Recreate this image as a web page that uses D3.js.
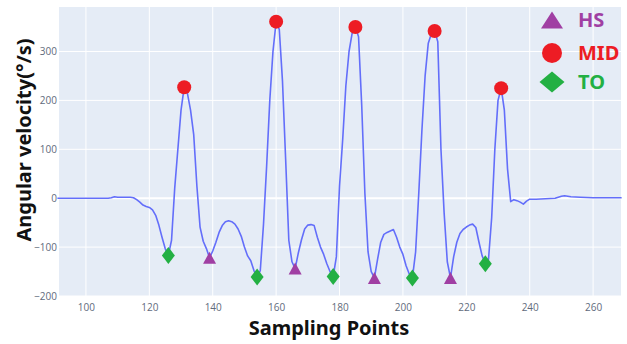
<!DOCTYPE html>
<html>
<head>
<meta charset="utf-8">
<script src="https://cdn.jsdelivr.net/npm/d3@7"></script>
<style>
  body { margin: 0; background: #fff; }
  svg { display: block; }
</style>
</head>
<body>
<svg id="chart" width="627" height="344"></svg>
<script>
// sampled angular velocity, [sample index, deg/s]
const signal = [
  [91, 0], [95, 0], [100, 0], [105, 0], [107, 0], [108, 1], [109, 3], [110, 2],
  [111, 2], [112, 2], [113, 2], [114, 2], [115, 1], [116, -3], [117, -8], [118, -14],
  [119, -17], [120, -19], [121, -24], [122, -35], [123, -55], [124, -80], [125, -103],
  [126, -117], [127, -86], [128, 20], [129, 100], [130, 180], [131, 227], [132, 215],
  [133, 180], [134, 130], [135, 25], [136, -59], [137, -88], [138, -103], [139, -122],
  [140, -108], [141, -90], [142, -70], [143, -56], [144, -48], [145, -46], [146, -48],
  [147, -53], [148, -63], [149, -78], [150, -100], [151, -118], [152, -128], [153, -148],
  [154, -161], [155, -148], [156, -55], [157, 65], [158, 200], [159, 300], [160, 361],
  [161, 345], [162, 240], [163, 80], [164, -86], [165, -130], [166, -144], [167, -112],
  [168, -85], [169, -63], [170, -55], [171, -54], [172, -56], [173, -80], [174, -100],
  [175, -115], [176, -134], [177, -150], [178, -160], [179, -120], [180, 25], [181, 120],
  [182, 230], [183, 300], [184, 338], [185, 350], [186, 330], [187, 190], [188, 10],
  [189, -110], [190, -150], [191, -163], [192, -125], [193, -90], [194, -74], [195, -70],
  [196, -67], [197, -64], [198, -80], [199, -100], [200, -115], [201, -138], [202, -155],
  [203, -163], [204, -110], [205, 10], [206, 140], [207, 250], [208, 317], [209, 337],
  [210, 342], [211, 320], [212, 100], [213, -30], [214, -130], [215, -163], [216, -120],
  [217, -90], [218, -72], [219, -64], [220, -59], [221, -55], [222, -53], [223, -60],
  [224, -90], [225, -118], [226, -134], [227, -125], [228, -40], [229, 100], [230, 200],
  [231, 225], [232, 180], [233, 60], [234, -7], [235, -3], [236, -5], [237, -8],
  [238, -12], [239, -6], [240, -2], [242, -2], [245, -1], [248, 0], [250, 4], [251, 5],
  [253, 3], [256, 2], [260, 1], [265, 1], [269, 1]
];

// gait events (sample indices)
const hsIdx = [139, 166, 191, 215];
const midIdx = [131, 160, 185, 210, 231];
const toIdx = [126, 154, 178, 203, 226];

const xTicks = [100, 120, 140, 160, 180, 200, 220, 240, 260];
const yTicks = [-200, -100, 0, 100, 200, 300];

const legendLabels = ["HS", "MID", "TO"];
const colors = { HS: "#a03fa3", MID: "#ed1c24", TO: "#23b043" };

const margin = { top: 7, right: 6, bottom: 48, left: 59 };
const W = 627, H = 344;
const width = W - margin.left - margin.right;
const height = H - margin.top - margin.bottom;

const svg = d3.select("#chart");
const g = svg.append("g").attr("transform", `translate(${margin.left},${margin.top})`);

const x = d3.scaleLinear().domain([91.5, 268.8]).range([0, width]);
const y = d3.scaleLinear().domain([-200, 391]).range([height, 0]);

g.append("rect")
  .attr("width", width)
  .attr("height", height)
  .attr("fill", "#e5ecf6");

// grid
g.append("g")
  .selectAll("line")
  .data(xTicks)
  .join("line")
  .attr("x1", (d) => x(d))
  .attr("x2", (d) => x(d))
  .attr("y1", 0)
  .attr("y2", height)
  .attr("stroke", "#fff")
  .attr("stroke-width", 1);

g.append("g")
  .selectAll("line")
  .data(yTicks)
  .join("line")
  .attr("x1", 0)
  .attr("x2", width)
  .attr("y1", (d) => y(d))
  .attr("y2", (d) => y(d))
  .attr("stroke", "#fff")
  .attr("stroke-width", (d) => (d === 0 ? 2 : 1));

// axes (labels only)
const xAxis = g
  .append("g")
  .attr("transform", `translate(0,${height})`)
  .call(d3.axisBottom(x).tickValues(xTicks).tickSize(0).tickPadding(8));
const yAxis = g
  .append("g")
  .call(d3.axisLeft(y).tickValues(yTicks).tickSize(0).tickPadding(2).tickFormat((d) => d < 0 ? "\u2212" + Math.abs(d) : d));

[xAxis, yAxis].forEach((a) => {
  a.select(".domain").remove();
  a.selectAll("text")
    .attr("fill", "#5f6b7c")
    .style("font-family", "'Open Sans', 'Noto Sans', sans-serif")
    .style("font-size", "10px");
});

// signal line
const line = d3
  .line()
  .x((d) => x(d[0]))
  .y((d) => y(d[1]));

g.append("path")
  .datum(signal)
  .attr("d", line)
  .attr("fill", "none")
  .attr("stroke", "#636efa")
  .attr("stroke-width", 1.6)
  .attr("stroke-linejoin", "round");

const valueAt = new Map(signal.map((d) => [d[0], d[1]]));

function trianglePath(w, h) {
  return `M0,${-h / 2}L${w / 2},${h / 2}L${-w / 2},${h / 2}Z`;
}
function diamondPath(w, h) {
  return `M0,${-h / 2}L${w / 2},0L0,${h / 2}L${-w / 2},0Z`;
}
function circlePath(r) {
  return d3.symbol(d3.symbolCircle, Math.PI * r * r)();
}

const markerSets = [
  { key: "TO", idx: toIdx, path: diamondPath(13, 17) },
  { key: "HS", idx: hsIdx, path: trianglePath(13, 12) },
  { key: "MID", idx: midIdx, path: circlePath(7) },
];

markerSets.forEach((m) => {
  g.append("g")
    .selectAll("path")
    .data(m.idx)
    .join("path")
    .attr("d", m.path)
    .attr("transform", (d) => `translate(${x(d)},${y(valueAt.get(d))})`)
    .attr("fill", colors[m.key]);
});

// legend
const legendShapes = {
  HS: trianglePath(22, 17),
  MID: circlePath(10),
  TO: diamondPath(25, 21),
};
const legendY = [20, 53, 82];
const legend = svg.append("g");
legendLabels.forEach((k, i) => {
  legend
    .append("path")
    .attr("d", legendShapes[k])
    .attr("transform", `translate(552,${legendY[i]})`)
    .attr("fill", colors[k]);
  legend
    .append("text")
    .attr("x", 578)
    .attr("y", legendY[i])
    .attr("dy", "0.36em")
    .attr("fill", colors[k])
    .style("font-family", "'Noto Sans', 'Open Sans', sans-serif")
    .style("font-weight", "bold")
    .style("font-size", "20px")
    .text(k);
});

// titles
svg
  .append("text")
  .attr("transform", `translate(31,140) rotate(-90)`)
  .attr("text-anchor", "middle")
  .style("font-family", "'Noto Sans', 'Open Sans', sans-serif")
  .style("font-weight", "bold")
  .style("font-size", "20px")
  .attr("fill", "#111")
  .text("Angular velocity(\u00b0/s)");

svg
  .append("text")
  .attr("x", 329)
  .attr("y", 335)
  .attr("text-anchor", "middle")
  .style("font-family", "'Noto Sans', 'Open Sans', sans-serif")
  .style("font-weight", "bold")
  .style("font-size", "20px")
  .attr("fill", "#111")
  .text("Sampling Points");
</script>
</body>
</html>
